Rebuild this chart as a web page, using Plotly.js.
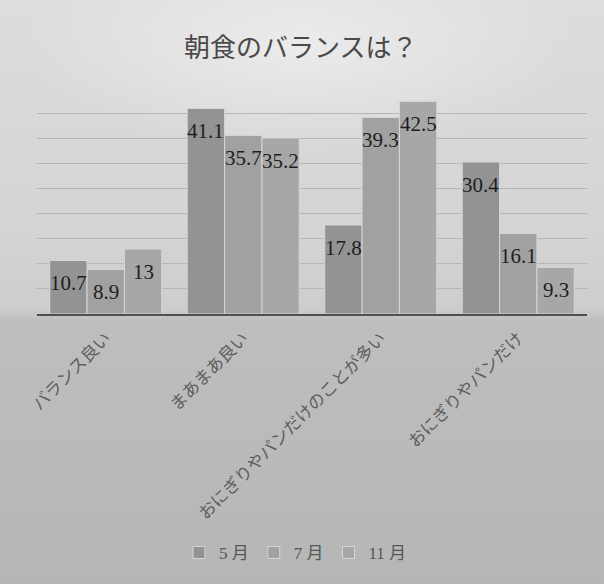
<!DOCTYPE html>
<html>
<head>
<meta charset="utf-8">
<script src="https://cdn.plot.ly/plotly-3.0.1.min.js"></script>
<style>
  html, body { margin: 0; padding: 0; }
  #chart {
    width: 604px;
    height: 584px;
    background:
      radial-gradient(ellipse 280px 110px at 300px 45px, rgba(255,255,255,0.45), rgba(255,255,255,0) 100%),
      linear-gradient(to bottom, #dddddd 0%, #d4d4d4 40%, #cdcdcd 53%, #bebebe 55%, #b6b6b6 100%);
  }
</style>
</head>
<body>
<div id="chart"></div>
<script>
// Breakfast balance survey, percentages per month
const categories = ['バランス良い', 'まあまあ良い', 'おにぎりやパンだけのことが多い', 'おにぎりやパンだけ'];
const seriesNames = ['5 月', '7 月', '11 月'];
const may = [10.7, 41.1, 17.8, 30.4];
const july = [8.9, 35.7, 39.3, 16.1];
const november = [13, 35.2, 42.5, 9.3];

const seriesValues = [may, july, november];
const seriesColors = ['#939393', '#a1a1a1', '#a7a7a7'];
const barGap = 0.185;

const traces = seriesValues.map((vals, i) => ({
  type: 'bar',
  name: seriesNames[i],
  x: categories,
  y: vals,
  marker: { color: seriesColors[i], line: { color: '#d6d6d6', width: 1 } },
  hoverinfo: 'skip'
}));

// Value labels sit just inside the top of each bar
const barWidth = (1 - barGap) / seriesValues.length;
const annotations = [];
seriesValues.forEach((vals, i) => {
  vals.forEach((v, j) => {
    annotations.push({
      xref: 'x', yref: 'y',
      x: j + (i - (seriesValues.length - 1) / 2) * barWidth,
      y: v,
      yshift: -23,
      yanchor: 'middle',
      xanchor: 'center',
      text: String(v),
      showarrow: false,
      font: { family: 'Liberation Serif, serif', size: 21, color: '#1e1e1e' }
    });
  });
});

const layout = {
  width: 604,
  height: 584,
  margin: { l: 37, r: 17, t: 89, b: 270 },
  paper_bgcolor: 'rgba(0,0,0,0)',
  plot_bgcolor: 'rgba(0,0,0,0)',
  title: {
    text: '朝食のバランスは？',
    x: 0.498,
    xanchor: 'center',
    y: 0.918,
    yanchor: 'middle',
    font: { family: 'Noto Sans CJK JP, sans-serif', size: 26, color: '#4a4a4a' }
  },
  barmode: 'group',
  bargap: barGap,
  bargroupgap: 0,
  showlegend: true,
  legend: {
    orientation: 'h',
    x: 0.47,
    xanchor: 'center',
    y: -1.062,
    yanchor: 'middle',
    itemwidth: 30,
    font: { family: 'Liberation Serif, Noto Sans CJK JP, serif', size: 17, color: '#555555' },
    bgcolor: 'rgba(0,0,0,0)'
  },
  xaxis: {
    type: 'category',
    showline: true,
    linecolor: '#505050',
    linewidth: 1.5,
    ticks: '',
    tickangle: -45,
    ticklabelstandoff: 6,
    tickfont: { family: 'Noto Sans CJK JP, sans-serif', size: 17, color: '#5e5e5e' },
    showgrid: false,
    zeroline: false,
    automargin: false
  },
  yaxis: {
    range: [0, 44.99],
    dtick: 5,
    showticklabels: false,
    ticks: '',
    showgrid: true,
    gridcolor: '#b6b6b6',
    gridwidth: 1,
    zeroline: false,
    showline: false,
    automargin: false
  },
  annotations: annotations
};

Plotly.newPlot('chart', traces, layout, { displayModeBar: false, staticPlot: true });
</script>
</body>
</html>
